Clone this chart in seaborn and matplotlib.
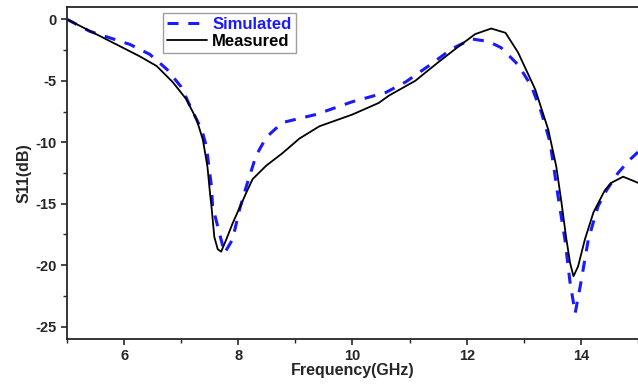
import matplotlib
matplotlib.use('Agg')
import matplotlib.pyplot as plt
from matplotlib.ticker import MultipleLocator
import seaborn as sns
import pandas as pd

# values
sim_freq = [5.0, 5.4, 6.1, 6.45, 6.75, 7.0, 7.18, 7.36, 7.44, 7.53, 7.55, 7.67, 7.76, 7.9, 8.02,
            8.14, 8.31, 8.49, 8.77, 9.36, 10.0, 10.58, 10.93, 11.33, 11.74, 12.09, 12.38, 12.6,
            12.9, 13.13, 13.31, 13.46, 13.55, 13.6, 13.72, 13.81, 13.9, 14.0, 14.13, 14.3,
            14.45, 14.65, 14.86, 15.0]
sim_s11 = [0, -0.98, -2.04, -2.85, -4.07, -5.5, -7.3, -9.0, -10.3, -13.6, -15.2, -17.4, -19.0,
           -17.9, -15.5, -13.6, -11.1, -9.6, -8.4, -7.74, -6.7, -5.96, -5.1, -3.8, -2.4, -1.6,
           -1.8, -2.3, -3.7, -5.4, -7.6, -10.0, -12.8, -14.4, -17.9, -21.4, -23.9, -21.4, -17.9,
           -15.2, -13.9, -12.5, -11.4, -10.8]

meas_freq = [5.0, 5.58, 6.27, 6.57, 6.85, 7.09, 7.27, 7.38, 7.46, 7.51, 7.53, 7.58, 7.64, 7.7,
             7.79, 7.9, 8.14, 8.25, 8.49, 8.77, 9.07, 9.42, 10.0, 10.46, 10.64, 11.1, 11.5,
             11.86, 12.15, 12.43, 12.68, 12.9, 13.2, 13.43, 13.57, 13.66, 13.74, 13.81, 13.87,
             13.95, 14.07, 14.22, 14.42, 14.53, 14.74, 14.95, 15.0]
meas_s11 = [0, -1.37, -3.0, -3.8, -5.1, -6.5, -8.15, -9.8, -12.0, -14.4, -15.2, -17.7, -18.7,
            -18.9, -17.9, -16.6, -14.1, -13.0, -11.9, -10.9, -9.7, -8.7, -7.74, -6.8, -6.2,
            -5.0, -3.5, -2.2, -1.2, -0.75, -1.1, -2.7, -5.7, -9.0, -12.0, -14.9, -17.7, -19.8,
            -20.9, -20.1, -17.9, -15.7, -13.9, -13.3, -12.8, -13.2, -13.3]

sim_df = pd.DataFrame({'freq': sim_freq, 's11': sim_s11})
meas_df = pd.DataFrame({'freq': meas_freq, 's11': meas_s11})

sns.set_style('ticks')
plt.rcParams['font.family'] = ['Liberation Sans', 'DejaVu Sans']
plt.rcParams['font.weight'] = 'bold'
plt.rcParams['axes.unicode_minus'] = False

fig = plt.figure(figsize=(6.38, 3.89), dpi=100)
ax = fig.add_axes([0.105, 0.1285, 0.895, 0.8535])

sim_color = '#1a1aff'
sns.lineplot(data=sim_df, x='freq', y='s11', ax=ax, color=sim_color, linewidth=2.2,
             sort=False)
ax.lines[-1].set_dashes((3.6, 3.2))
sns.lineplot(data=meas_df, x='freq', y='s11', ax=ax, color='black', linewidth=1.3,
             sort=False)

ax.set_xlim(5, 15)
ax.set_ylim(-26, 1)
ax.xaxis.set_major_locator(MultipleLocator(2))
ax.xaxis.set_minor_locator(MultipleLocator(1))
ax.yaxis.set_major_locator(MultipleLocator(5))
ax.yaxis.set_minor_locator(MultipleLocator(2.5))
ax.tick_params(which='major', length=4, width=1.2, labelsize=10.5)
ax.tick_params(which='minor', length=3, width=1.0)

for side in ['left', 'bottom', 'top']:
    ax.spines[side].set_linewidth(1.3)
ax.spines['right'].set_visible(False)

ax.set_xlabel('Frequency(GHz)', fontsize=11.5, fontweight='bold', labelpad=0)
ax.set_ylabel('S11(dB)', fontsize=11.5, fontweight='bold', labelpad=3)

leg = ax.legend(ax.lines[:2], ['Simulated', 'Measured'], loc='upper left',
                bbox_to_anchor=(0.168, 0.982), fontsize=12, frameon=True, fancybox=False,
                borderpad=0.25, handlelength=2.4, labelspacing=0.1, handletextpad=0.3,
                borderaxespad=0)
leg.get_frame().set_edgecolor('#888888')
leg.get_frame().set_linewidth(1.0)
for txt, col in zip(leg.get_texts(), [sim_color, 'black']):
    txt.set_color(col)

fig.savefig('out.png', dpi=100)
plt.close(fig)
